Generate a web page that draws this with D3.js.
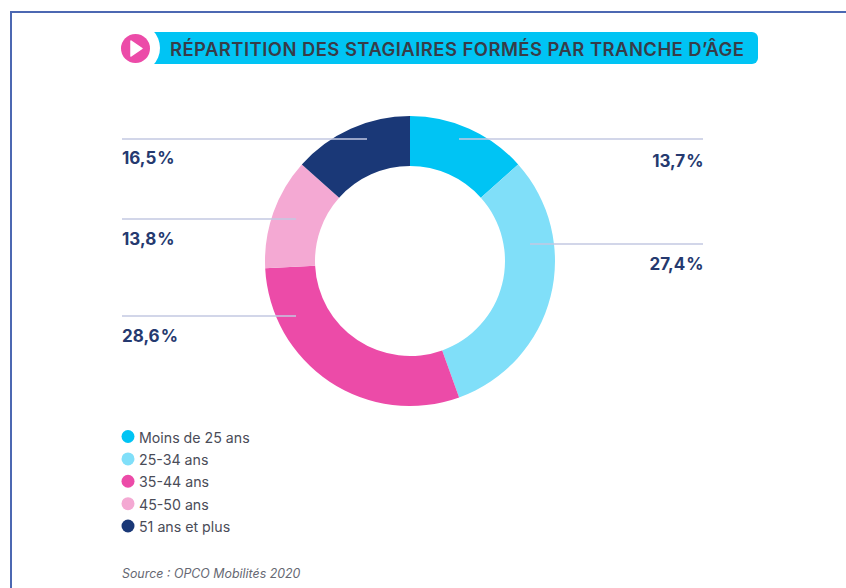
<!DOCTYPE html>
<html lang="fr">
<head>
<meta charset="utf-8">
<title>Répartition des stagiaires formés par tranche d'âge</title>
<script src="https://cdn.jsdelivr.net/npm/d3@7"></script>
<style>
  html, body { margin: 0; padding: 0; background: #fff; }
  svg { display: block; font-family: Inter, "Open Sans", sans-serif; }
</style>
</head>
<body>
<div id="chart"></div>
<script>
// chart data
const titleText = "RÉPARTITION DES STAGIAIRES FORMÉS PAR TRANCHE D’ÂGE";
const sourceText = "Source : OPCO Mobilités 2020";
const categories = ["Moins de 25 ans", "25-34 ans", "35-44 ans", "45-50 ans", "51 ans et plus"];
// printed percentages
const printedLabels = ["13,7 %", "27,4 %", "28,6 %", "13,8 %", "16,5 %"];
// slice sizes as drawn in the picture, they differ from the printed numbers
const sliceShares = [13.4, 31.1, 29.7, 12.4, 13.4];
const colors = ["#00c4f4", "#80dff9", "#ec4ba8", "#f4a9d3", "#1a3877"];

const width = 846;
const height = 588;
const center = [410, 261];

const svg = d3.select("#chart")
  .append("svg")
    .attr("width", width)
    .attr("height", height);

// page frame
svg.append("path")
    .attr("d", `M${width},12 H11 V${height}`)
    .attr("fill", "none")
    .attr("stroke", "#4c68b2")
    .attr("stroke-width", 2);

// title banner
const banner = svg.append("g");
banner.append("path")
    .attr("d", "M150,32 H752 a6,6 0 0 1 6,6 V58 a6,6 0 0 1 -6,6 H150 Z")
    .attr("fill", "#00c4f4");
banner.append("circle")
    .attr("cx", 135).attr("cy", 48)
    .attr("r", 25)
    .attr("fill", "#fff");
banner.append("circle")
    .attr("cx", 135.5).attr("cy", 48.5)
    .attr("r", 14.5)
    .attr("fill", "#ec4ba8");
banner.append("path")
    .attr("d", "M131,41 L142,48.5 L131,56 Z")
    .attr("fill", "#fff")
    .attr("stroke", "#fff")
    .attr("stroke-width", 1.5)
    .attr("stroke-linejoin", "round");
banner.append("text")
    .attr("x", 170).attr("y", 55.5)
    .attr("font-size", 18.4)
    .attr("font-weight", 600)
    .attr("fill", "#383c48")
    .attr("textLength", 574)
    .attr("lengthAdjust", "spacing")
    .text(titleText);

// donut
const pie = d3.pie().sort(null).value(d => d);
const arc = d3.arc().innerRadius(95).outerRadius(145);

svg.append("g")
    .attr("transform", `translate(${center})`)
  .selectAll("path")
  .data(pie(sliceShares))
  .join("path")
    .attr("d", arc)
    .attr("fill", (d, i) => colors[i]);

// leader lines and printed values, one per slice
const leaders = [
  { x1: 459, x2: 703, y: 139, textY: 167 },
  { x1: 530, x2: 703, y: 244, textY: 270 },
  { x1: 296, x2: 122, y: 316, textY: 342 },
  { x1: 296, x2: 122, y: 219, textY: 245 },
  { x1: 367, x2: 122, y: 139, textY: 164 }
];

svg.append("g")
  .selectAll("line")
  .data(leaders)
  .join("line")
    .attr("x1", d => d.x1)
    .attr("x2", d => d.x2)
    .attr("y1", d => d.y)
    .attr("y2", d => d.y)
    .attr("stroke", "#c3c9e2")
    .attr("stroke-width", 1.5);

svg.append("g")
  .selectAll("text")
  .data(leaders)
  .join("text")
    .attr("x", d => d.x2 > center[0] ? d.x2 + 0.5 : d.x2)
    .attr("y", d => d.textY)
    .attr("text-anchor", d => d.x2 > center[0] ? "end" : "start")
    .attr("font-size", 17)
    .attr("font-weight", 700)
    .attr("word-spacing", -3)
    .attr("fill", "#25396f")
    .text((d, i) => printedLabels[i]);

// legend
const legendY = d3.scalePoint().domain(categories).range([436.5, 526]);
const legend = svg.append("g")
  .selectAll("g")
  .data(categories)
  .join("g")
    .attr("transform", d => `translate(128,${legendY(d)})`);

legend.append("circle")
    .attr("r", 6.5)
    .attr("fill", (d, i) => colors[i]);

legend.append("text")
    .attr("x", 11)
    .attr("y", 6)
    .attr("font-size", 14.2)
    .attr("fill", "#4a4c58")
    .text(d => d);

// source
svg.append("text")
    .attr("x", 122).attr("y", 578)
    .attr("font-size", 12.4)
    .attr("font-style", "italic")
    .attr("fill", "#666872")
    .text(sourceText);
</script>
</body>
</html>
